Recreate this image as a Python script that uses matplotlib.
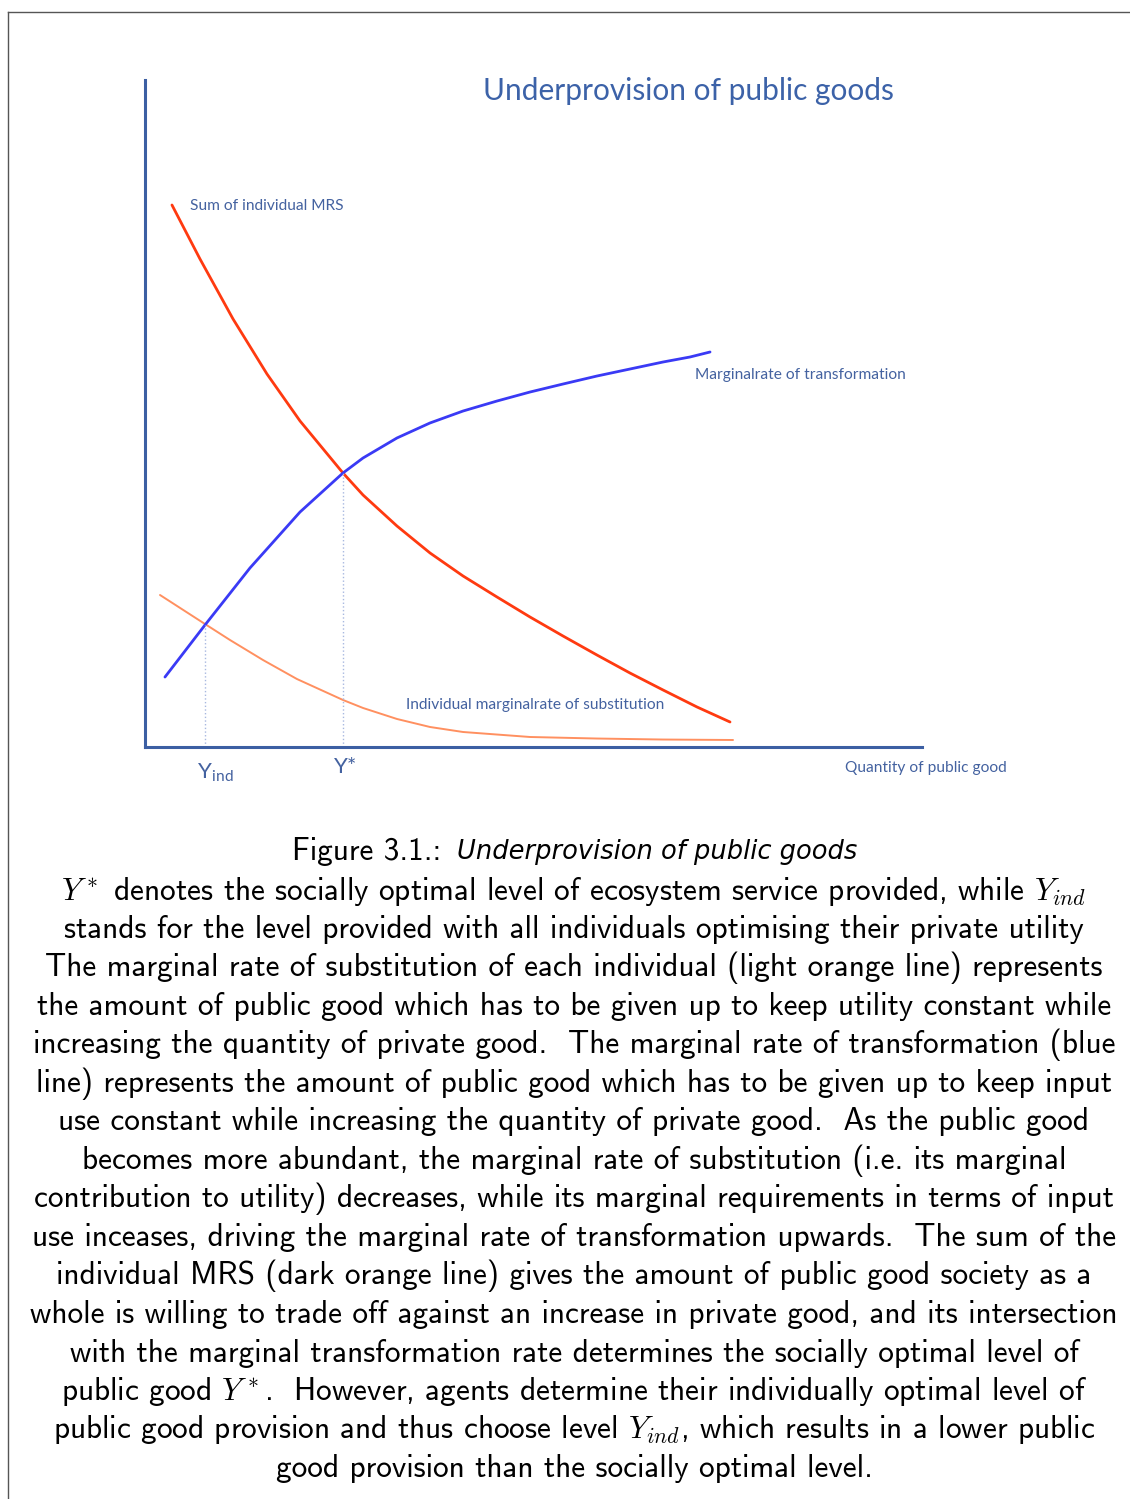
import matplotlib
matplotlib.use("Agg")
import matplotlib.pyplot as plt
from matplotlib.lines import Line2D

plt.rcParams['mathtext.fontset'] = 'cm'

# --- data (x: quantity 0-100, y: rate 0-100) ---
sum_mrs_x = [3.47, 7.08, 11.33, 15.70, 19.95, 25.48, 28.06, 32.43, 36.68, 40.93, 45.30,
             49.55, 53.80, 58.17, 62.42, 66.67, 71.04, 75.29]
sum_mrs_y = [81.26, 73.16, 64.17, 55.92, 48.88, 41.08, 37.78, 33.13, 29.09, 25.64, 22.49,
             19.49, 16.64, 13.79, 11.09, 8.55, 6.00, 3.75]

mrt_x = [2.57, 7.72, 13.51, 19.95, 25.48, 28.06, 32.43, 36.68, 40.93, 45.30, 49.55,
         53.80, 58.17, 62.42, 66.67, 70.14, 72.72]
mrt_y = [10.49, 18.29, 26.84, 35.23, 41.08, 43.33, 46.33, 48.58, 50.37, 51.87, 53.22,
         54.42, 55.62, 56.67, 57.72, 58.47, 59.22]

ind_mrs_x = [1.93, 7.72, 10.94, 15.19, 19.56, 25.48, 28.06, 32.43, 36.68, 40.93, 49.55,
             58.17, 66.67, 75.68]
ind_mrs_y = [22.79, 18.44, 16.04, 13.04, 10.19, 7.05, 5.85, 4.20, 3.00, 2.25, 1.50,
             1.27, 1.12, 1.05]

y_ind = (7.72, 18.35)
y_star = (25.48, 41.08)

caption_head = "Figure 3.1.: "
caption_title = "Underprovision of public goods"
caption_lines = [
    r"$Y^*$ denotes the socially optimal level of ecosystem service provided, while $Y_{ind}$",
    "stands for the level provided with all individuals optimising their private utility",
    "The marginal rate of substitution of each individual (light orange line) represents",
    "the amount of public good which has to be given up to keep utility constant while",
    "increasing the quantity of private good.  The marginal rate of transformation (blue",
    "line) represents the amount of public good which has to be given up to keep input",
    "use constant while increasing the quantity of private good.  As the public good",
    "becomes more abundant, the marginal rate of substitution (i.e. its marginal",
    "contribution to utility) decreases, while its marginal requirements in terms of input",
    "use inceases, driving the marginal rate of transformation upwards.  The sum of the",
    "individual MRS (dark orange line) gives the amount of public good society as a",
    "whole is willing to trade off against an increase in private good, and its intersection",
    "with the marginal transformation rate determines the socially optimal level of",
    r"public good $Y^*$.  However, agents determine their individually optimal level of",
    r"public good provision and thus choose level $Y_{ind}$, which results in a lower public",
    "good provision than the socially optimal level.",
]

W, H = 1130, 1499
fig = plt.figure(figsize=(W / 100, H / 100), dpi=100)

# frame of the page
fig.add_artist(Line2D([8 / W, 1], [1 - 12 / H, 1 - 12 / H], color='#555555', lw=1.0))
fig.add_artist(Line2D([8 / W, 8 / W], [0, 1 - 12 / H], color='#555555', lw=1.0))

ax = fig.add_axes([145 / W, 1 - 747 / H, 777 / W, 667 / H])
ax.set_xlim(0, 100)
ax.set_ylim(0, 100)
for s in ['top', 'right']:
    ax.spines[s].set_visible(False)
for s in ['left', 'bottom']:
    ax.spines[s].set_color('#3C5FA3')
    ax.spines[s].set_linewidth(2.2)
ax.set_xticks([])
ax.set_yticks([])

ax.plot(ind_mrs_x, ind_mrs_y, color='#FF9060', lw=1.4, solid_capstyle='round',
        solid_joinstyle='round')
ax.plot(sum_mrs_x, sum_mrs_y, color='#FF3A10', lw=2.0, solid_capstyle='round',
        solid_joinstyle='round')
ax.plot(mrt_x, mrt_y, color='#3A3AF5', lw=2.0, solid_capstyle='round',
        solid_joinstyle='round')

for px, py in (y_ind, y_star):
    ax.plot([px, px], [0, py], color='#A8B8E0', lw=1.0, ls=':')

lab = '#4462A0'
fnt = 'Lato'
ax.text(70.0, 98.4, "Underprovision of public goods", color='#3C62A8', fontsize=21.5,
        family=fnt, ha='center', va='center')
ax.text(5.8, 81.1, "Sum of individual MRS", color=lab, fontsize=11.2, family=fnt, va='center')
ax.text(70.8, 55.8, "Marginalrate of transformation", color=lab, fontsize=11.2, family=fnt,
        va='center')
ax.text(33.6, 6.3, "Individual marginalrate of substitution", color=lab, fontsize=11.2,
        family=fnt, va='center')
ax.text(90.1, -3.1, "Quantity of public good", color=lab, fontsize=11.2, family=fnt, va='center')
ax.text(24.3, -3.0, "Y*", color=lab, fontsize=16, family=fnt, va='center')
ax.text(6.7, -3.9, r"Y$_{\mathregular{ind}}$", color=lab, fontsize=16, family=fnt, va='center')

# caption
cap = dict(fontsize=22.5, family='cmss10', color='black', va='center')
fig.text(452 / W, 1 - 852 / H, caption_head, ha='right', **cap)
fig.text(457 / W, 1 - 852 / H, caption_title, ha='left', fontsize=18.5, family='DejaVu Sans',
         style='oblique', va='center')
for i, line in enumerate(caption_lines):
    y = 891 + i * 38.5
    fig.text(574 / W, 1 - y / H, line, ha='center', **cap)

fig.savefig('out.png', dpi=100)
